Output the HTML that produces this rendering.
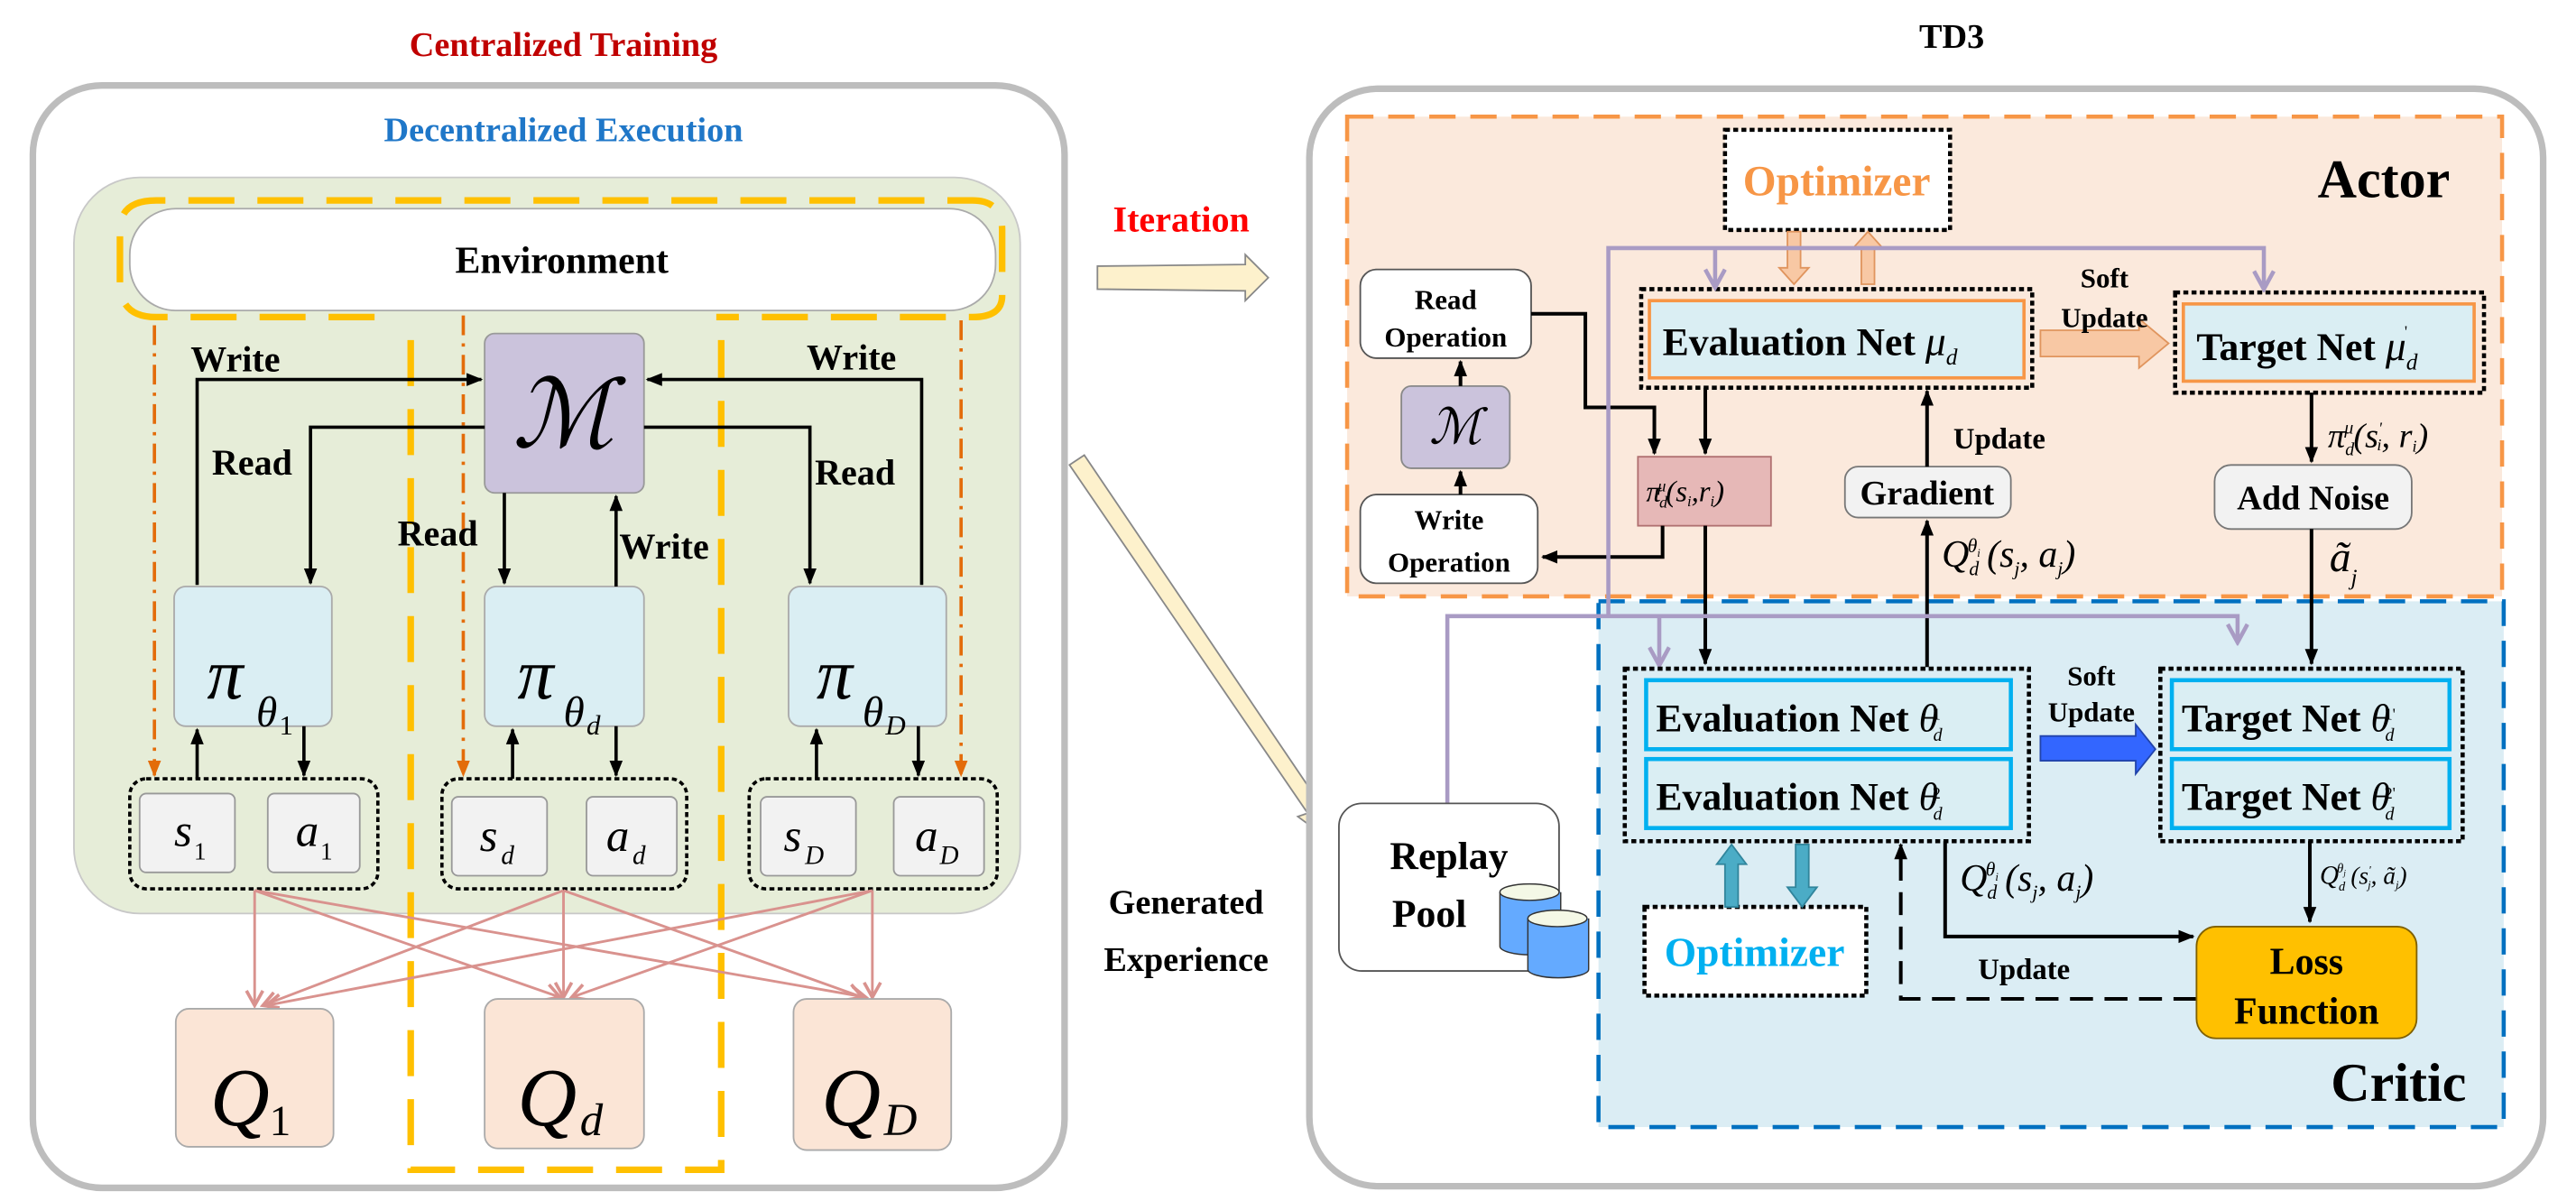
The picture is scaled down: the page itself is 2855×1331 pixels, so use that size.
<!DOCTYPE html>
<html><head><meta charset="utf-8"><style>
html,body{margin:0;padding:0;background:#fff}
svg{display:block}
svg text{font-family:"Liberation Serif","Times New Roman","DejaVu Serif Condensed","DejaVu Serif",serif}
svg text.dv{font-family:"DejaVu Serif",serif}
</style></head><body>
<svg width="2855" height="1331" viewBox="0 0 1568 731" preserveAspectRatio="none" xmlns="http://www.w3.org/2000/svg" font-family="Liberation Serif, Times New Roman, DejaVu Serif Condensed, DejaVu Serif, serif" font-weight="bold">
<defs>
<marker id="ab" markerWidth="10" markerHeight="10" refX="9" refY="5" orient="auto" markerUnits="userSpaceOnUse"><path d="M0,1 L10,5 L0,9 z" fill="#000"/></marker>
<marker id="ap" markerWidth="12" markerHeight="12" refX="10" refY="6" orient="auto" markerUnits="userSpaceOnUse"><path d="M1,1 L10,6 L1,11" fill="none" stroke="#d9928e" stroke-width="2"/></marker>
<marker id="au" markerWidth="14" markerHeight="14" refX="12" refY="7" orient="auto" markerUnits="userSpaceOnUse"><path d="M1,1 L12,7 L1,13" fill="none" stroke="#a99bc4" stroke-width="2.5"/></marker>
<marker id="ao" markerWidth="10" markerHeight="10" refX="9" refY="5" orient="auto" markerUnits="userSpaceOnUse"><path d="M0,1 L10,5 L0,9 z" fill="#e36c0a"/></marker>
</defs>

<text x="343" y="34" font-size="21" fill="#c00000" text-anchor="middle">Centralized Training</text>
<text x="1188" y="29" font-size="21" fill="#000" text-anchor="middle">TD3</text>

<rect x="20" y="52" width="628" height="671" rx="42" fill="#fff" stroke="#bdbdbd" stroke-width="4"/>
<text x="343" y="86" font-size="21" fill="#1f77c8" text-anchor="middle">Decentralized Execution</text>
<rect x="45" y="108" width="576" height="448" rx="40" fill="#e6edd8" stroke="#c8c8c8" stroke-width="1"/>
<rect x="79" y="127" width="527" height="62" rx="28" fill="#fff" stroke="#aaa" stroke-width="1"/>
<text x="342" y="166" font-size="23" text-anchor="middle">Environment</text>

<g fill="none" stroke="#ffc000" stroke-width="4" stroke-dasharray="28,14">
<path d="M228,193 L95,193 Q73,193 73,172 L73,140 Q73,122 95,122 L592,122 Q610,122 610,140 L610,180 Q610,193 592,193 L436,193"/>
<path d="M250,207 L250,712 L439,712 L439,207"/>
</g>
<g fill="none" stroke="#e36c0a" stroke-width="2" stroke-dasharray="12,5,2,5">
<path d="M94,198 L94,472" marker-end="url(#ao)"/>
<path d="M282,192 L282,472" marker-end="url(#ao)"/>
<path d="M585,195 L585,472" marker-end="url(#ao)"/>
</g>

<rect x="295" y="203" width="97" height="97" rx="6" fill="#cbc3dc" stroke="#999"/>
<text class="dv" x="343" y="272" font-size="58" font-style="italic" font-weight="normal" text-anchor="middle" font-family="DejaVu Serif">ℳ</text>

<g fill="#daeef3" stroke="#aaa">
<rect x="106" y="357" width="96" height="85" rx="7"/>
<rect x="295" y="357" width="97" height="85" rx="7"/>
<rect x="480" y="357" width="96" height="85" rx="7"/>
</g>
<g font-style="italic" font-weight="normal">
<text x="126" y="425" font-size="44">π</text><text x="156" y="442" font-size="26">θ</text><text x="170" y="447" font-size="17" font-style="normal">1</text>
<text x="315" y="425" font-size="44">π</text><text x="343" y="442" font-size="26">θ</text><text x="357" y="447" font-size="17">d</text>
<text x="497" y="425" font-size="44">π</text><text x="525" y="442" font-size="26">θ</text><text x="539" y="447" font-size="17">D</text>
</g>

<g fill="none" stroke="#000" stroke-width="2">
<path d="M120,356 L120,231 L293,231" marker-end="url(#ab)"/>
<path d="M295,260 L189,260 L189,355" marker-end="url(#ab)"/>
<path d="M307,300 L307,355" marker-end="url(#ab)"/>
<path d="M375,357 L375,302" marker-end="url(#ab)"/>
<path d="M561,356 L561,231 L394,231" marker-end="url(#ab)"/>
<path d="M392,260 L493,260 L493,355" marker-end="url(#ab)"/>
<path d="M120,474 L120,444" marker-end="url(#ab)"/>
<path d="M185,442 L185,472" marker-end="url(#ab)"/>
<path d="M312,474 L312,444" marker-end="url(#ab)"/>
<path d="M375,442 L375,472" marker-end="url(#ab)"/>
<path d="M497,474 L497,444" marker-end="url(#ab)"/>
<path d="M559,442 L559,472" marker-end="url(#ab)"/>
</g>
<g font-size="22">
<text x="116" y="226">Write</text>
<text x="129" y="289">Read</text>
<text x="242" y="332">Read</text>
<text x="377" y="340">Write</text>
<text x="491" y="225">Write</text>
<text x="496" y="295">Read</text>
</g>

<g fill="none" stroke="#000" stroke-width="2" stroke-dasharray="3,2">
<rect x="79" y="474" width="151" height="67" rx="10"/>
<rect x="269" y="474" width="149" height="67" rx="10"/>
<rect x="456" y="474" width="151" height="67" rx="10"/>
</g>
<g fill="#f2f2f2" stroke="#999">
<rect x="85" y="483" width="58" height="48" rx="4"/><rect x="163" y="483" width="56" height="48" rx="4"/>
<rect x="275" y="485" width="58" height="48" rx="4"/><rect x="357" y="485" width="55" height="48" rx="4"/>
<rect x="463" y="485" width="58" height="48" rx="4"/><rect x="544" y="485" width="55" height="48" rx="4"/>
</g>
<g font-style="italic" font-weight="normal" font-size="28">
<text x="106" y="515">s</text><text x="118" y="523" font-size="15" font-style="normal">1</text>
<text x="180" y="515">a</text><text x="195" y="523" font-size="15" font-style="normal">1</text>
<text x="292" y="518">s</text><text x="305" y="526" font-size="16">d</text>
<text x="369" y="518">a</text><text x="385" y="526" font-size="16">d</text>
<text x="477" y="518">s</text><text x="490" y="526" font-size="16">D</text>
<text x="557" y="518">a</text><text x="572" y="526" font-size="16">D</text>
</g>

<g fill="none" stroke="#d9928e" stroke-width="1.6">
<path d="M155,542 L155,612" marker-end="url(#ap)"/>
<path d="M155,542 L341,607" marker-end="url(#ap)"/>
<path d="M155,542 L527,607" marker-end="url(#ap)"/>
<path d="M343,542 L160,612" marker-end="url(#ap)"/>
<path d="M343,542 L343,607" marker-end="url(#ap)"/>
<path d="M343,542 L525,607" marker-end="url(#ap)"/>
<path d="M531,542 L162,612" marker-end="url(#ap)"/>
<path d="M531,542 L348,607" marker-end="url(#ap)"/>
<path d="M531,542 L531,607" marker-end="url(#ap)"/>
</g>
<g fill="#fbe5d6" stroke="#aaa">
<rect x="107" y="614" width="96" height="84" rx="8"/>
<rect x="295" y="608" width="97" height="91" rx="8"/>
<rect x="483" y="608" width="96" height="92" rx="8"/>
</g>
<g font-style="italic" font-weight="normal">
<text x="128" y="685" font-size="50">Q</text><text x="164" y="691" font-size="26" font-style="normal">1</text>
<text x="315" y="685" font-size="50">Q</text><text x="353" y="691" font-size="28">d</text>
<text x="500" y="685" font-size="50">Q</text><text x="538" y="691" font-size="28">D</text>
</g>

<text x="719" y="141" font-size="22" fill="#ff0000" text-anchor="middle">Iteration</text>
<path d="M668,162 L758,161 L758,155 L772,169 L758,183 L758,177 L668,176 z" fill="#fdf1cc" stroke="#888" stroke-width="1"/>
<path d="M651,283 L660,277 L804,490 L809,482 L813,514 L790,497 L796,495 L651,283 z" fill="#fdf1cc" stroke="#888" stroke-width="1"/>
<text x="722" y="556" font-size="21" text-anchor="middle">Generated</text>
<text x="722" y="591" font-size="21" text-anchor="middle">Experience</text>

<rect x="797" y="54" width="751" height="668" rx="42" fill="#fff" stroke="#bdbdbd" stroke-width="4"/>
<rect x="820" y="71" width="703" height="292" fill="#fbe9dc" stroke="#f79646" stroke-width="2.5" stroke-dasharray="16,9"/>
<rect x="973" y="366" width="551" height="320" fill="#dbedf4" stroke="#0070c0" stroke-width="2.5" stroke-dasharray="16,9"/>
<text x="1451" y="120" font-size="33" text-anchor="middle">Actor</text>
<text x="1460" y="670" font-size="33" text-anchor="middle">Critic</text>

<rect x="1050" y="79" width="137" height="61" fill="#fff" stroke="#000" stroke-width="2.5" stroke-dasharray="3,2"/>
<text x="1118" y="119" font-size="26" fill="#f79646" text-anchor="middle">Optimizer</text>
<path d="M1088,141 L1096,141 L1096,163 L1101,163 L1092,173 L1083,163 L1088,163 z" fill="#f8c8a4" stroke="#e0955e" stroke-width="1"/>
<path d="M1133,173 L1141,173 L1141,151 L1146,151 L1137,141 L1128,151 L1133,151 z" fill="#f8c8a4" stroke="#e0955e" stroke-width="1"/>

<rect x="999" y="176" width="238" height="60" fill="none" stroke="#000" stroke-width="2.5" stroke-dasharray="3,2"/>
<rect x="1004" y="183" width="228" height="47" fill="#daeef3" stroke="#f79646" stroke-width="2"/>
<text x="1012" y="216" font-size="24">Evaluation Net <tspan font-style="italic" font-weight="normal" font-size="25">μ</tspan><tspan font-style="italic" font-weight="normal" font-size="14" dy="6">d</tspan></text>

<path d="M1242,201 L1302,201 L1302,194 L1320,209 L1302,224 L1302,217 L1242,217 z" fill="#f8c8a4" stroke="#e0955e" stroke-width="1"/>
<text x="1281" y="175" font-size="17" text-anchor="middle">Soft</text>
<text x="1281" y="199" font-size="17" text-anchor="middle">Update</text>

<rect x="1324" y="178" width="188" height="61" fill="none" stroke="#000" stroke-width="2.5" stroke-dasharray="3,2"/>
<rect x="1329" y="185" width="177" height="47" fill="#daeef3" stroke="#f79646" stroke-width="2"/>
<text x="1337" y="219" font-size="24">Target Net <tspan font-style="italic" font-weight="normal" font-size="25">μ</tspan><tspan font-style="italic" font-weight="normal" font-size="14" dy="6">d</tspan><tspan font-size="10" dx="-8" dy="-20" font-weight="normal">'</tspan></text>

<rect x="828" y="164" width="104" height="54" rx="10" fill="#fff" stroke="#555"/>
<text x="880" y="188" font-size="17" text-anchor="middle">Read</text>
<text x="880" y="211" font-size="17" text-anchor="middle">Operation</text>
<rect x="853" y="235" width="66" height="50" rx="6" fill="#cbc3dc" stroke="#888"/>
<text class="dv" x="886" y="270" font-size="30" font-style="italic" font-weight="normal" text-anchor="middle" font-family="DejaVu Serif">ℳ</text>
<rect x="828" y="301" width="108" height="54" rx="10" fill="#fff" stroke="#555"/>
<text x="882" y="322" font-size="17" text-anchor="middle">Write</text>
<text x="882" y="348" font-size="17" text-anchor="middle">Operation</text>

<rect x="997" y="278" width="81" height="42" fill="#e6b8b7" stroke="#b07070"/>
<text x="1002" y="305" font-size="18" font-style="italic" font-weight="normal">π<tspan font-size="10" dy="4" dx="-1">d</tspan><tspan font-size="10" dy="-10" dx="-6">μ</tspan><tspan font-size="18" dy="6">(s</tspan><tspan font-size="9" dy="3">i</tspan><tspan font-size="18" dy="-3">,r</tspan><tspan font-size="9" dy="3">i</tspan><tspan font-size="18" dy="-3">)</tspan></text>

<rect x="1123" y="284" width="101" height="31" rx="8" fill="#f2f2f2" stroke="#777"/>
<text x="1173" y="307" font-size="21" text-anchor="middle">Gradient</text>
<rect x="1348" y="283" width="120" height="39" rx="10" fill="#f2f2f2" stroke="#777"/>
<text x="1408" y="310" font-size="21" text-anchor="middle">Add Noise</text>

<g fill="none" stroke="#000" stroke-width="2.2">
<path d="M889,235 L889,220" marker-end="url(#ab)"/>
<path d="M889,301 L889,287" marker-end="url(#ab)"/>
<path d="M932,191 L965,191 L965,248 L1007,248 L1007,276" marker-end="url(#ab)"/>
<path d="M1012,320 L1012,339 L939,339" marker-end="url(#ab)"/>
<path d="M1038,236 L1038,276" marker-end="url(#ab)"/>
<path d="M1038,320 L1038,404" marker-end="url(#ab)"/>
<path d="M1173,284 L1173,238" marker-end="url(#ab)"/>
<path d="M1173,406 L1173,317" marker-end="url(#ab)"/>
<path d="M1407,239 L1407,281" marker-end="url(#ab)"/>
<path d="M1407,322 L1407,404" marker-end="url(#ab)"/>
</g>
<text x="1189" y="273" font-size="18">Update</text>
<g font-style="italic" font-weight="normal">
<text x="1182" y="345" font-size="23">Q<tspan font-size="12" dy="5">d</tspan><tspan font-size="12" dy="-14" dx="-7">θ</tspan><tspan font-size="7" dy="3">i</tspan><tspan font-size="23" dy="6" dx="4">(s</tspan><tspan font-size="12" dy="5">j</tspan><tspan font-size="23" dy="-5">, a</tspan><tspan font-size="12" dy="5">j</tspan><tspan font-size="23" dy="-5">)</tspan></text>
<text x="1417" y="272" font-size="21">π<tspan font-size="11" dy="5">d</tspan><tspan font-size="11" dy="-13" dx="-6">μ</tspan><tspan font-size="21" dy="8">(s</tspan><tspan font-size="10" dy="-8">'</tspan><tspan font-size="10" dy="10" dx="-3">i</tspan><tspan font-size="21" dy="-2">, r</tspan><tspan font-size="10" dy="3">i</tspan><tspan font-size="21" dy="-3">)</tspan></text>
<text x="1418" y="348" font-size="26">ã<tspan font-size="14" dy="8">j</tspan></text>
</g>

<g fill="none" stroke="#a99bc4" stroke-width="2.5">
<path d="M979,375 L979,151 L1378,151 L1378,176" marker-end="url(#au)"/>
<path d="M1044,151 L1044,175" marker-end="url(#au)"/>
<path d="M881,489 L881,375 L1362,375 L1362,391" marker-end="url(#au)"/>
<path d="M1010,375 L1010,405" marker-end="url(#au)"/>
</g>

<rect x="989" y="407" width="246" height="105" fill="none" stroke="#000" stroke-width="2.5" stroke-dasharray="3,2"/>
<rect x="1002" y="414" width="222" height="42" fill="#daeef3" stroke="#00b0f0" stroke-width="2.5"/>
<rect x="1002" y="462" width="222" height="42" fill="#daeef3" stroke="#00b0f0" stroke-width="2.5"/>
<text x="1008" y="445" font-size="24">Evaluation Net <tspan font-style="italic" font-weight="normal">θ</tspan><tspan font-style="italic" font-weight="normal" font-size="11" dy="6" dx="-3">d</tspan><tspan font-size="10" dy="-13" dx="-6" font-weight="normal">1</tspan></text>
<text x="1008" y="493" font-size="24">Evaluation Net <tspan font-style="italic" font-weight="normal">θ</tspan><tspan font-style="italic" font-weight="normal" font-size="11" dy="6" dx="-3">d</tspan><tspan font-size="10" dy="-13" dx="-6" font-weight="normal">2</tspan></text>

<path d="M1242,448 L1300,448 L1300,441 L1312,456 L1300,471 L1300,463 L1242,463 z" fill="#3366ff" stroke="#2244aa" stroke-width="1"/>
<text x="1273" y="417" font-size="17" text-anchor="middle">Soft</text>
<text x="1273" y="439" font-size="17" text-anchor="middle">Update</text>

<rect x="1315" y="407" width="184" height="105" fill="none" stroke="#000" stroke-width="2.5" stroke-dasharray="3,2"/>
<rect x="1322" y="414" width="169" height="42" fill="#daeef3" stroke="#00b0f0" stroke-width="2.5"/>
<rect x="1322" y="462" width="169" height="42" fill="#daeef3" stroke="#00b0f0" stroke-width="2.5"/>
<text x="1328" y="445" font-size="24">Target Net <tspan font-style="italic" font-weight="normal">θ</tspan><tspan font-style="italic" font-weight="normal" font-size="11" dy="6" dx="-3">d</tspan><tspan font-size="10" dy="-13" dx="-6" font-weight="normal">1'</tspan></text>
<text x="1328" y="493" font-size="24">Target Net <tspan font-style="italic" font-weight="normal">θ</tspan><tspan font-style="italic" font-weight="normal" font-size="11" dy="6" dx="-3">d</tspan><tspan font-size="10" dy="-13" dx="-6" font-weight="normal">2'</tspan></text>

<rect x="815" y="489" width="134" height="102" rx="14" fill="#fff" stroke="#555"/>
<text x="882" y="529" font-size="24" text-anchor="middle">Replay</text>
<text x="870" y="564" font-size="24" text-anchor="middle">Pool</text>
<g stroke="#333" stroke-width="0.8">
<path d="M913,543 L913,576 A18,5 0 0 0 950,576 L950,543" fill="#64aaff"/>
<ellipse cx="931" cy="543" rx="18" ry="5" fill="#f4f8e6"/>
<path d="M930,559 L930,590 A18,5 0 0 0 967,590 L967,559" fill="#64aaff"/>
<ellipse cx="948" cy="559" rx="18" ry="5" fill="#f4f8e6"/>
</g>

<rect x="1001" y="552" width="135" height="54" fill="#fff" stroke="#000" stroke-width="2.5" stroke-dasharray="3,2"/>
<text x="1068" y="588" font-size="25" fill="#00b0f0" text-anchor="middle">Optimizer</text>
<path d="M1050,552 L1058,552 L1058,526 L1063,526 L1054,514 L1045,526 L1050,526 z" fill="#4bacc6" stroke="#31859c" stroke-width="1"/>
<path d="M1093,514 L1101,514 L1101,540 L1106,540 L1097,552 L1088,540 L1093,540 z" fill="#4bacc6" stroke="#31859c" stroke-width="1"/>

<g fill="none" stroke="#000" stroke-width="2.2">
<path d="M1184,512 L1184,570 L1335,570" marker-end="url(#ab)"/>
<path d="M1406,512 L1406,561" marker-end="url(#ab)"/>
<path d="M1337,608 L1157,608 L1157,514" stroke-dasharray="14,7" marker-end="url(#ab)"/>
</g>
<g font-style="italic" font-weight="normal">
<text x="1193" y="542" font-size="23">Q<tspan font-size="12" dy="5">d</tspan><tspan font-size="12" dy="-14" dx="-7">θ</tspan><tspan font-size="7" dy="3">i</tspan><tspan font-size="23" dy="6" dx="4">(s</tspan><tspan font-size="12" dy="5">j</tspan><tspan font-size="23" dy="-5">, a</tspan><tspan font-size="12" dy="5">j</tspan><tspan font-size="23" dy="-5">)</tspan></text>
<text x="1412" y="538" font-size="16">Q<tspan font-size="8" dy="4">d</tspan><tspan font-size="8" dy="-11" dx="-5">θ</tspan><tspan font-size="5" dy="2">j</tspan><tspan font-size="15" dy="5" dx="3">(s</tspan><tspan font-size="7" dy="-6">'</tspan><tspan font-size="7" dy="9" dx="-2">j</tspan><tspan font-size="15" dy="-3">, ã</tspan><tspan font-size="7" dy="3">j</tspan><tspan font-size="15" dy="-3">)</tspan></text>
</g>
<text x="1232" y="596" font-size="18" text-anchor="middle">Update</text>

<rect x="1337" y="564" width="134" height="68" rx="12" fill="#ffc000" stroke="#7f6000"/>
<text x="1404" y="593" font-size="23" text-anchor="middle">Loss</text>
<text x="1404" y="623" font-size="23" text-anchor="middle">Function</text>
</svg>
</body></html>
